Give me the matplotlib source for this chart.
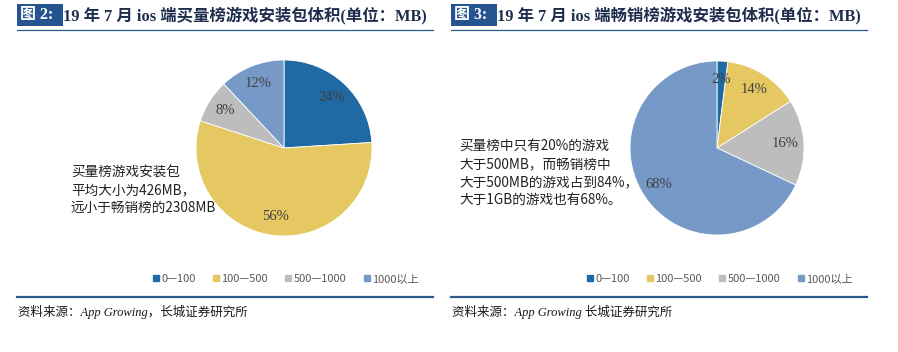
import matplotlib
matplotlib.use('Agg')
import matplotlib.pyplot as plt
from matplotlib.patches import Rectangle
from matplotlib.lines import Line2D

# --- Data ---
categories = ['0—100', '100—500', '500—1000', '1000以上']
buy_share = [24, 56, 8, 12]       # 买量榜
top_share = [2, 14, 16, 68]       # 畅销榜

titles = ['19 年 7 月 ios 端买量榜游戏安装包体积(单位：MB)',
          '19 年 7 月 ios 端畅销榜游戏安装包体积(单位：MB)']
fig_tags = ['图 2:', '图 3:']
notes = ['买量榜游戏安装包\n平均大小为426MB，\n远小于畅销榜的2308MB',
         '买量榜中只有20%的游戏\n大于500MB，而畅销榜中\n大于500MB的游戏占到84%，\n大于1GB的游戏也有68%。']
sources = ['资料来源：App Growing，长城证券研究所',
           '资料来源：App Growing 长城证券研究所']

COLORS = ['#1F6AA5', '#E5C862', '#BDBDBD', '#7699C8']
NAVY = '#2B5B8C'
SERIF = ['Liberation Serif', 'Noto Sans CJK SC']
SANS = ['Noto Sans CJK SC', 'DejaVu Sans']

W, H = 898, 352
fig = plt.figure(figsize=(W / 100, H / 100), dpi=100)


def fx(px):
    return px / W


def fy(py):
    return 1 - py / H


def draw_panel(x0, x1, cx, cy, r, shares, tag, title, note, note_xy, source, legend_x):
    # title tag box + title text
    fig.patches.append(Rectangle((fx(x0), fy(26)), fx(46), 22 / H, transform=fig.transFigure,
                                 facecolor='#25548F', edgecolor='none'))
    fig.text(fx(x0 + 3), fy(15), tag, color='white', fontsize=11.5, fontweight='bold',
             family=SERIF, va='center', ha='left')
    fig.text(fx(x0 + 46), fy(15), title, color='#1F2D4D', fontsize=11.8, fontweight='bold',
             family=SERIF, va='center', ha='left')
    fig.add_artist(Line2D([fx(x0), fx(x1)], [fy(30), fy(30)], color=NAVY, lw=0.9,
                          transform=fig.transFigure))

    # pie
    ax = fig.add_axes([fx(cx - r), fy(cy + r), 2 * r / W, 2 * r / H])
    ax.pie(shares, colors=COLORS, startangle=90, counterclock=False,
           autopct=lambda p: f'{p:.0f}%', pctdistance=0.79,
           wedgeprops=dict(linewidth=0.6, edgecolor='white'),
           textprops=dict(color='#404040', fontsize=10.5, family=SERIF))
    ax.set_xlim(-1, 1)
    ax.set_ylim(-1, 1)
    ax.set_aspect('auto')
    ax.axis('off')

    # annotation
    fig.text(fx(note_xy[0]), fy(note_xy[1]), note, fontsize=9.8, family=SANS, color='#222222',
             va='top', ha='left', linespacing=1.32)

    # legend
    handles = [Line2D([], [], marker='s', ls='none', markersize=4, color=c) for c in COLORS]
    fig.legend(handles, categories, loc='center', bbox_to_anchor=(fx(legend_x), fy(279)),
               ncol=4, frameon=False, handlelength=0.5, handletextpad=0.2, columnspacing=1.6,
               prop=dict(family=SANS, size=8), labelcolor='#595959')

    # footer
    fig.add_artist(Line2D([fx(x0), fx(x1)], [fy(297), fy(297)], color=NAVY, lw=1.6,
                          transform=fig.transFigure))
    fig.text(fx(x0 + 1), fy(312), source, fontsize=9, family=SERIF, style='italic',
             color='#1a1a1a', va='center', ha='left')


draw_panel(17, 433, 284, 148, 88, buy_share, fig_tags[0], titles[0], notes[0], (71, 166),
           sources[0], 286)
draw_panel(451, 867, 717, 148, 87, top_share, fig_tags[1], titles[1], notes[1], (459, 140),
           sources[1], 720)

fig.savefig('out.png', dpi=100)
